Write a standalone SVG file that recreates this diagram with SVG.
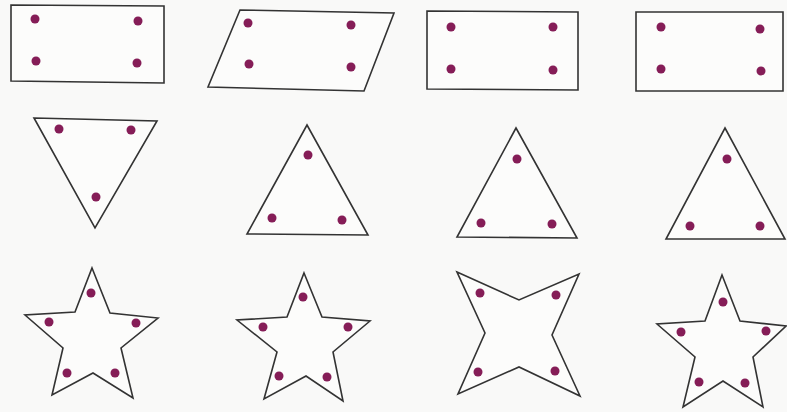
<svg xmlns="http://www.w3.org/2000/svg" width="787" height="412" viewBox="0 0 787 412">
<style>
.s{fill:#fcfcfb;stroke:#333;stroke-width:1.6;stroke-linejoin:miter}
.d{fill:#851d57}
</style>
<rect width="787" height="412" fill="#f9f9f8"/>
<g id="rect1"><polygon class="s" points="11,5 164,6 164,83 11,81"/>
<circle class="d" cx="35" cy="19" r="4.5"/><circle class="d" cx="138" cy="21" r="4.5"/><circle class="d" cx="36" cy="61" r="4.5"/><circle class="d" cx="137" cy="63" r="4.5"/></g>
<g id="para"><polygon class="s" points="240,10 394,13 364,91 208,87"/>
<circle class="d" cx="248" cy="23" r="4.5"/><circle class="d" cx="351" cy="25" r="4.5"/><circle class="d" cx="249" cy="64" r="4.5"/><circle class="d" cx="351" cy="67" r="4.5"/></g>
<g id="rect3"><polygon class="s" points="427,11 578,12 578,90 427,89"/>
<circle class="d" cx="451" cy="27" r="4.5"/><circle class="d" cx="553" cy="27" r="4.5"/><circle class="d" cx="451" cy="69" r="4.5"/><circle class="d" cx="553" cy="70" r="4.5"/></g>
<g id="rect4"><polygon class="s" points="636,12 783,12 783,91 636,91"/>
<circle class="d" cx="661" cy="27" r="4.5"/><circle class="d" cx="760" cy="29" r="4.5"/><circle class="d" cx="661" cy="69" r="4.5"/><circle class="d" cx="761" cy="71" r="4.5"/></g>
<g id="tri1"><polygon class="s" points="34,118 157,121 95,228"/>
<circle class="d" cx="59" cy="129" r="4.5"/><circle class="d" cx="131" cy="130" r="4.5"/><circle class="d" cx="96" cy="197" r="4.5"/></g>
<g id="tri2"><polygon class="s" points="307,125 368,235 247,234"/>
<circle class="d" cx="308" cy="155" r="4.5"/><circle class="d" cx="272" cy="218" r="4.5"/><circle class="d" cx="342" cy="220" r="4.5"/></g>
<g id="tri3"><polygon class="s" points="516,128 577,238 457,237"/>
<circle class="d" cx="517" cy="159" r="4.5"/><circle class="d" cx="481" cy="223" r="4.5"/><circle class="d" cx="552" cy="224" r="4.5"/></g>
<g id="tri4"><polygon class="s" points="725,128 785,239 666,239"/>
<circle class="d" cx="727" cy="159" r="4.5"/><circle class="d" cx="690" cy="226" r="4.5"/><circle class="d" cx="760" cy="226" r="4.5"/></g>
<g id="star1"><polygon class="s" points="92,268 110,313 158,318 121,348 133,398 93,373 52,395 63,348 25,315 75,312"/>
<circle class="d" cx="91" cy="293" r="4.5"/><circle class="d" cx="49" cy="322" r="4.5"/><circle class="d" cx="136" cy="323" r="4.5"/><circle class="d" cx="67" cy="373" r="4.5"/><circle class="d" cx="115" cy="373" r="4.5"/></g>
<g id="star2"><polygon class="s" points="304,273 322,317 370,321 333,352 343,401 306,376 264,399 277,352 237,320 287,317"/>
<circle class="d" cx="303" cy="297" r="4.5"/><circle class="d" cx="263" cy="327" r="4.5"/><circle class="d" cx="348" cy="327" r="4.5"/><circle class="d" cx="279" cy="376" r="4.5"/><circle class="d" cx="327" cy="377" r="4.5"/></g>
<g id="star3"><polygon class="s" points="457,272 519,300 579,274 552,335 580,396 519,367 458,394 485,333"/>
<circle class="d" cx="480" cy="293" r="4.5"/><circle class="d" cx="556" cy="295" r="4.5"/><circle class="d" cx="478" cy="372" r="4.5"/><circle class="d" cx="555" cy="371" r="4.5"/></g>
<g id="star4"><polygon class="s" points="722,275 740,321 786,326 753,357 763,407 723,381 683,407 695,357 657,324 705,321"/>
<circle class="d" cx="723" cy="302" r="4.5"/><circle class="d" cx="681" cy="332" r="4.5"/><circle class="d" cx="766" cy="331" r="4.5"/><circle class="d" cx="699" cy="382" r="4.5"/><circle class="d" cx="745" cy="383" r="4.5"/></g>
</svg>
